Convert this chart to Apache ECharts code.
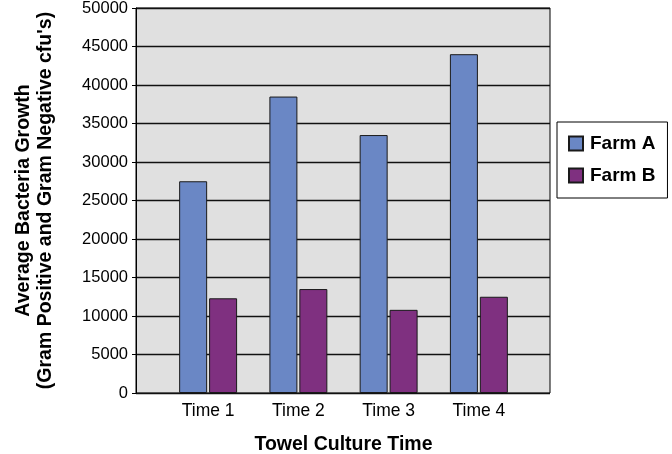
<!DOCTYPE html>
<html>
<head>
<meta charset="utf-8">
<script src="https://cdn.jsdelivr.net/npm/echarts@6/dist/echarts.min.js"></script>
<style>
  html, body { margin: 0; padding: 0; background: #fff; }
  #chart { width: 672px; height: 454px; }
</style>
</head>
<body>
<div id="chart"></div>
<script>
// 类别与数据
const categories = ['Time 1', 'Time 2', 'Time 3', 'Time 4']
const farmA = [27500, 38500, 33500, 44000]
const farmB = [12300, 13500, 10800, 12500]
const seriesNames = ['Farm A', 'Farm B']

const font = 'Liberation Sans, Arial, sans-serif'

let myChart = echarts.init(document.getElementById('chart'))

let option = {
  animation: false,
  textStyle: { fontFamily: font },
  legend: {
    data: seriesNames,
    orient: 'vertical',
    left: 557,
    top: 122,
    padding: [12, 12, 13, 11],
    itemGap: 13,
    itemWidth: 14,
    itemHeight: 14,
    icon: 'rect',
    borderColor: '#000',
    borderWidth: 1,
    backgroundColor: '#fff',
    textStyle: { color: '#000', fontSize: 19, fontWeight: 'bold', fontFamily: font, padding: [0, 0, 0, 2] }
  },
  grid: [
    // 背景框
    { left: 136, top: 8, width: 414, height: 385, outerBoundsMode: 'none', show: true, backgroundColor: '#e0e0e0', borderColor: '#000', borderWidth: 1 },
    // 柱子区域
    { left: 163, top: 8, width: 361, height: 385, outerBoundsMode: 'none' }
  ],
  xAxis: [
    { gridIndex: 0, type: 'category', data: categories, show: false },
    {
      gridIndex: 1,
      type: 'category',
      data: categories,
      axisLine: { show: false },
      axisTick: { show: false },
      axisLabel: { color: '#000', fontSize: 17.5, margin: 9, fontFamily: font },
      name: 'Towel Culture Time',
      nameLocation: 'middle',
      nameGap: 42,
      nameTextStyle: { color: '#000', fontSize: 19.5, fontWeight: 'bold', fontFamily: font }
    }
  ],
  yAxis: [
    {
      gridIndex: 0,
      type: 'value',
      min: 0,
      max: 50000,
      interval: 5000,
      axisLine: { show: true, lineStyle: { color: '#000', width: 1 } },
      axisTick: { show: true, length: 4, lineStyle: { color: '#000' } },
      axisLabel: { color: '#000', fontSize: 16.5, margin: 8, fontFamily: font, formatter: v => String(v) },
      splitLine: { show: true, lineStyle: { color: '#111', width: 1.3 } },
      name: 'Average Bacteria Growth\n(Gram Positive and Gram Negative cfu\'s)',
      nameLocation: 'middle',
      nameGap: 79,
      nameRotate: 90,
      nameTextStyle: { color: '#000', fontSize: 19.5, fontWeight: 'bold', lineHeight: 22, fontFamily: font }
    },
    { gridIndex: 1, type: 'value', min: 0, max: 50000, show: false }
  ],
  series: [
    {
      name: seriesNames[0],
      type: 'bar',
      xAxisIndex: 1,
      yAxisIndex: 1,
      data: farmA,
      barWidth: 28,
      barGap: '7%',
      itemStyle: { color: '#6a87c5', borderColor: '#1a1a1a', borderWidth: 1 }
    },
    {
      name: seriesNames[1],
      type: 'bar',
      xAxisIndex: 1,
      yAxisIndex: 1,
      data: farmB,
      barWidth: 28,
      barGap: '7%',
      itemStyle: { color: '#7f3080', borderColor: '#1a1a1a', borderWidth: 1 }
    }
  ]
}

myChart.setOption(option)
</script>
</body>
</html>
